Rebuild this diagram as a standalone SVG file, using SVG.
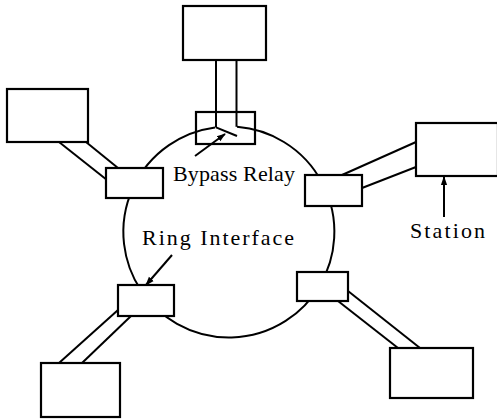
<svg xmlns="http://www.w3.org/2000/svg" width="497" height="419" viewBox="0 0 497 419">
<style>
.box{fill:#fff;stroke:#000;stroke-width:2.2}
.ln{fill:none;stroke:#000;stroke-width:2}
.lbl{font-family:"Liberation Serif",serif;font-size:22px;fill:#000}
</style>
<defs>
<marker id="ah" viewBox="0 0 10 10" refX="9" refY="5" markerWidth="9" markerHeight="9" markerUnits="userSpaceOnUse" orient="auto">
<path d="M0,1.5 L10,5 L0,8.5 Z" fill="#000"/>
</marker>
</defs>
<rect width="497" height="419" fill="#fff"/>
<g id="ring">
<path class="ln" d="M237,126.8 A105.5,105.5 0 1 1 215,127.4"/>
</g>
<g id="connectors">
<line class="ln" x1="216" y1="60" x2="216" y2="127.4"/>
<line class="ln" x1="236.5" y1="60" x2="236.5" y2="126.8"/>
<line class="ln" x1="59" y1="142" x2="107" y2="180"/>
<line class="ln" x1="86" y1="142" x2="118" y2="168"/>
<line class="ln" x1="342" y1="175" x2="416" y2="142"/>
<line class="ln" x1="362" y1="188" x2="416" y2="167"/>
<line class="ln" x1="59" y1="363" x2="118" y2="310"/>
<line class="ln" x1="82" y1="363" x2="131" y2="316"/>
<line class="ln" x1="338" y1="301" x2="398" y2="348"/>
<line class="ln" x1="348" y1="291" x2="420" y2="348"/>
<line class="ln" x1="195" y1="156" x2="225" y2="134" marker-end="url(#ah)"/>
<line class="ln" x1="172" y1="255" x2="146" y2="285" marker-end="url(#ah)"/>
<line class="ln" x1="444" y1="217" x2="444" y2="177" marker-end="url(#ah)"/>
</g>
<g id="station-top"><rect class="box" x="183" y="6" width="83" height="54"/></g>
<g id="station-left"><rect class="box" x="7" y="89" width="81" height="53"/></g>
<g id="station-right"><rect class="box" x="416" y="123" width="82" height="53"/></g>
<g id="station-bottom-left"><rect class="box" x="41" y="363" width="79" height="54"/></g>
<g id="station-bottom-right"><rect class="box" x="390" y="348" width="83" height="50"/></g>
<g id="relay-top">
<rect x="196" y="112" width="59" height="32" fill="none" stroke="#000" stroke-width="2.2"/>
<line class="ln" x1="216" y1="127.4" x2="237" y2="136"/>
</g>
<g id="interface-left"><rect class="box" x="106" y="168" width="57" height="30"/></g>
<g id="interface-right"><rect class="box" x="305" y="175" width="57" height="31"/></g>
<g id="interface-bottom-left"><rect class="box" x="118" y="285" width="56" height="31"/></g>
<g id="interface-bottom-right"><rect class="box" x="297" y="272" width="51" height="29"/></g>
<g id="labels">
<text class="lbl" x="173" y="181" textLength="122" lengthAdjust="spacing">Bypass Relay</text>
<text class="lbl" x="142" y="245" textLength="152" lengthAdjust="spacing">Ring Interface</text>
<text class="lbl" x="410" y="238" textLength="75" lengthAdjust="spacing">Station</text>
</g>
</svg>
